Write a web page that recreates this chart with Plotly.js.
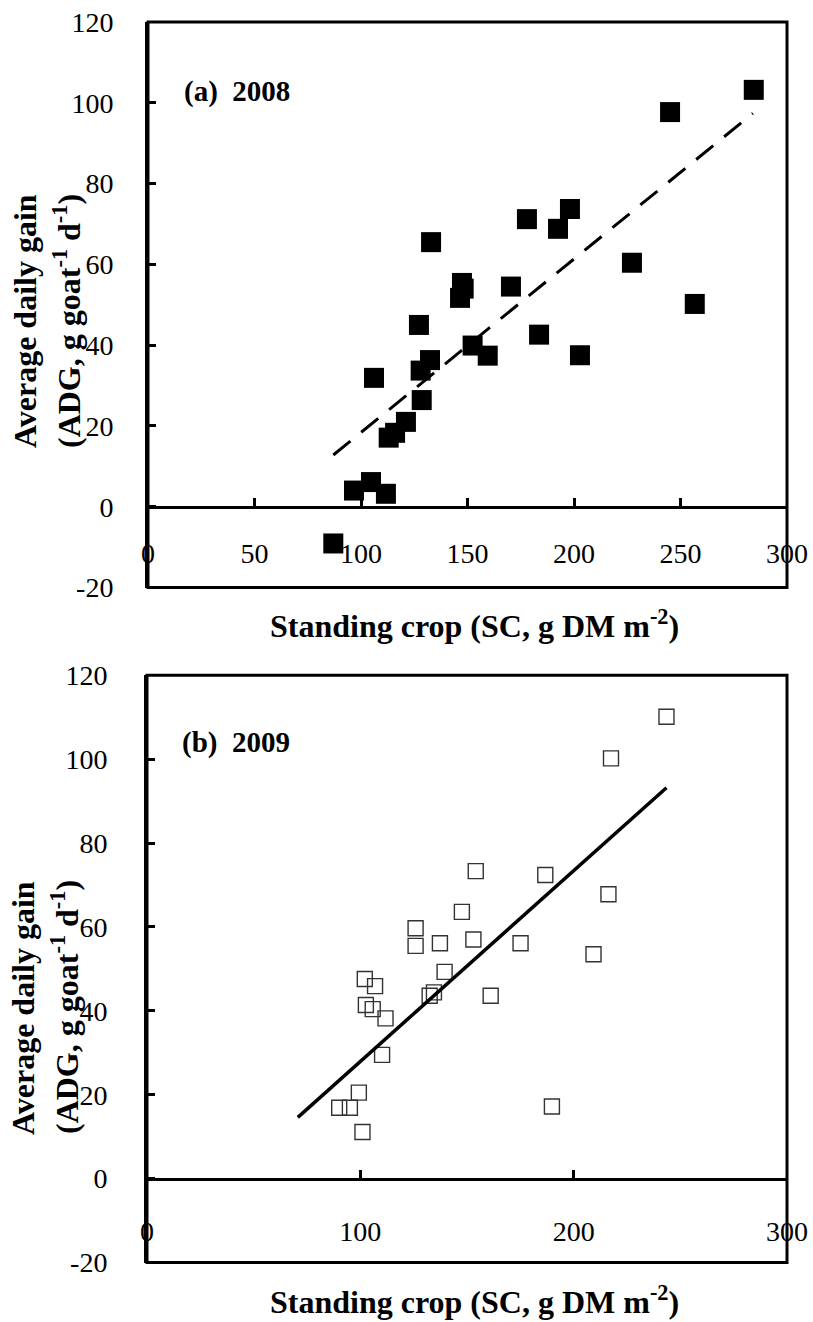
<!DOCTYPE html>
<html>
<head>
<meta charset="utf-8">
<script src="https://cdn.plot.ly/plotly-3.0.1.min.js"></script>
<style>html,body{margin:0;padding:0;background:#fff;}#chart{width:813px;height:1322px;}</style>
</head>
<body>
<div id="chart"></div>
<script>
// ---- Data ----
// (a) 2008
const sc2008 = [132.9, 177.9, 147.4, 148.2, 146.5, 170.4, 127.2, 183.6, 152.4, 159.5, 132.4, 128.0, 106.1, 128.5,
                121.1, 116.0, 113.0, 104.7, 96.7, 111.7, 87.0, 284.4, 245.1, 198.1, 192.5, 227.2, 256.7, 202.8];
const adg2008 = [65.5, 71.2, 55.4, 54.0, 51.7, 54.5, 45.0, 42.6, 39.9, 37.4, 36.3, 33.7, 31.9, 26.4,
                 21.0, 18.3, 17.1, 6.1, 4.0, 3.2, -9.1, 103.2, 97.7, 73.7, 68.8, 60.4, 50.2, 37.5];
const fit2008X = [87, 284];
const fit2008Y = [12.8, 97.4];
// (b) 2009
const sc2009 = [154.1, 147.6, 125.9, 125.9, 137.3, 153.0, 139.5, 134.5, 132.5, 161.1, 102.1, 106.9, 102.6, 105.8,
                111.8, 110.2, 99.3, 90.1, 95.1, 101.0, 243.5, 217.5, 216.3, 209.3, 186.7, 175.1, 189.8];
const adg2009 = [73.3, 63.6, 59.7, 55.5, 56.1, 57.0, 49.3, 44.4, 43.6, 43.6, 47.6, 45.9, 41.4, 40.4,
                 38.2, 29.5, 20.5, 16.9, 16.9, 11.1, 110.1, 100.2, 67.8, 53.5, 72.4, 56.1, 17.2];
const fit2009X = [70.7, 243.5];
const fit2009Y = [14.6, 93.2];

const xRange = [0, 300];
const yRange = [-20, 120];
const yTicks = [-20, 0, 20, 40, 60, 80, 100, 120];
const xTicksA = [0, 50, 100, 150, 200, 250, 300];
const xTicksB = [0, 100, 200, 300];

const xTitle = 'Standing crop (SC, g DM m<sup>-2</sup>)';
const yTitle1 = 'Average daily gain';
const yTitle2 = '(ADG, g goat<sup>-1</sup> d<sup>-1</sup>)';
const panelA = '(a)\u00a0\u00a02008';
const panelB = '(b)\u00a0\u00a02009';

// ---- Layout helpers (pixel -> paper fraction) ----
const W = 813, H = 1322;
const fx = px => px / W;
const fy = py => 1 - py / H;
const FONT = '"Liberation Serif", "DejaVu Serif", serif';

const xDomA = [fx(148), fx(787)], yDomA = [fy(587.5), fy(22)];
const xDomB = [fx(147), fx(787)], yDomB = [fy(1262.5), fy(675.3)];
const zeroPos = d => d[0] + (d[1] - d[0]) * (0 - yRange[0]) / (yRange[1] - yRange[0]);

function xAxis(dom, ypos, ticks, standoff) {
  return {
    domain: dom, range: xRange, anchor: 'free', position: ypos,
    showline: true, linewidth: 3, linecolor: '#000',
    ticks: 'inside', ticklen: 8, tickwidth: 3, tickcolor: '#000',
    tickmode: 'array', tickvals: ticks, ticktext: ticks.map(String),
    showgrid: false, zeroline: false, ticklabelstandoff: standoff,
    tickfont: {family: FONT, size: 28, color: '#000'}
  };
}
function yAxis(dom, anchor, standoff) {
  return {
    domain: dom, range: yRange, anchor: anchor,
    showline: true, linewidth: 3, linecolor: '#000',
    ticks: 'inside', ticklen: 8, tickwidth: 3, tickcolor: '#000',
    tickmode: 'array', tickvals: yTicks, ticktext: yTicks.map(String),
    showgrid: false, zeroline: false, ticklabelstandoff: standoff,
    tickfont: {family: FONT, size: 28, color: '#000'}
  };
}

const traces = [
  {x: sc2008, y: adg2008, xaxis: 'x', yaxis: 'y', mode: 'markers', type: 'scatter',
   marker: {symbol: 'square', size: 20, color: '#000', line: {width: 0}}, cliponaxis: false},
  {x: fit2008X, y: fit2008Y, xaxis: 'x', yaxis: 'y', mode: 'lines', type: 'scatter',
   line: {color: '#000', width: 3, dash: '22px,14px'}},
  {x: sc2009, y: adg2009, xaxis: 'x2', yaxis: 'y2', mode: 'markers', type: 'scatter',
   marker: {symbol: 'square-open', size: 15, color: '#333', line: {width: 1.4, color: '#333'}}},
  {x: fit2009X, y: fit2009Y, xaxis: 'x2', yaxis: 'y2', mode: 'lines', type: 'scatter',
   line: {color: '#000', width: 3.5}}
];

function ann(text, px, py, opts) {
  return Object.assign({text: text, xref: 'paper', yref: 'paper', x: fx(px), y: fy(py),
    showarrow: false, xanchor: 'center', yanchor: 'middle',
    font: {family: FONT, size: 32, color: '#000', weight: 'bold'}}, opts || {});
}

const layout = {
  width: W, height: H, margin: {l: 0, r: 0, t: 0, b: 0},
  paper_bgcolor: '#fff', plot_bgcolor: '#fff', showlegend: false,
  xaxis: xAxis(xDomA, zeroPos(yDomA), xTicksA, 21),
  yaxis: yAxis(yDomA, 'x', 26),
  xaxis2: xAxis(xDomB, zeroPos(yDomB), xTicksB, 27),
  yaxis2: yAxis(yDomB, 'x2', 31),
  shapes: [
    {type: 'rect', xref: 'x domain', yref: 'y domain', x0: 0, x1: 1, y0: 0, y1: 1, line: {color: '#000', width: 3}},
    {type: 'rect', xref: 'x2 domain', yref: 'y2 domain', x0: 0, x1: 1, y0: 0, y1: 1, line: {color: '#000', width: 3}}
  ],
  annotations: [
    ann(panelA, 182, 91, {xanchor: 'left', font: {family: FONT, size: 29, color: '#000', weight: 'bold'}}),
    ann(panelB, 180, 742, {xanchor: 'left', font: {family: FONT, size: 29, color: '#000', weight: 'bold'}}),
    ann(xTitle, 474, 624),
    ann(xTitle, 474, 1300),
    ann(yTitle1, 25, 321, {textangle: -90}),
    ann(yTitle2, 67, 321, {textangle: -90}),
    ann(yTitle1, 23, 1008, {textangle: -90}),
    ann(yTitle2, 65, 1007, {textangle: -90})
  ]
};

Plotly.newPlot('chart', traces, layout, {staticPlot: true, displayModeBar: false});
</script>
</body>
</html>
